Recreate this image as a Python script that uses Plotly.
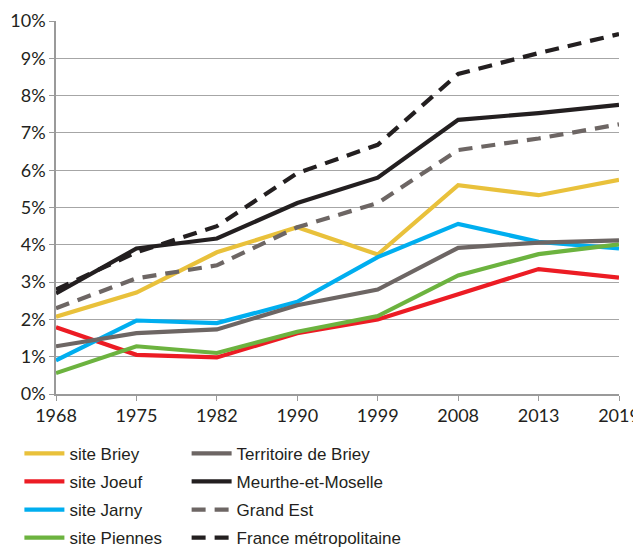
import plotly.graph_objects as go

years = ["1968", "1975", "1982", "1990", "1999", "2008", "2013", "2019"]

site_briey = [2.07, 2.72, 3.80, 4.47, 3.74, 5.60, 5.33, 5.74]
site_joeuf = [1.79, 1.05, 0.98, 1.63, 2.00, 2.67, 3.35, 3.12]
site_jarny = [0.90, 1.97, 1.90, 2.47, 3.67, 4.56, 4.08, 3.90]
site_piennes = [0.56, 1.28, 1.10, 1.67, 2.09, 3.18, 3.75, 4.01]
territoire_briey = [1.28, 1.63, 1.73, 2.38, 2.80, 3.92, 4.06, 4.12]
meurthe_moselle = [2.70, 3.90, 4.17, 5.12, 5.80, 7.35, 7.53, 7.75]
grand_est = [2.30, 3.10, 3.45, 4.47, 5.12, 6.54, 6.85, 7.23]
france_metro = [2.80, 3.80, 4.50, 5.92, 6.68, 8.58, 9.14, 9.65]

y_ticks = [0, 1, 2, 3, 4, 5, 6, 7, 8, 9, 10]
y_ticktext = [f"{v}%" for v in y_ticks]

xi = list(range(len(years)))

series = [
    ("site Briey", site_briey, "#E9C13B", "solid", "legend", 1),
    ("site Joeuf", site_joeuf, "#EC1C24", "solid", "legend", 2),
    ("site Jarny", site_jarny, "#00AEEF", "solid", "legend", 3),
    ("site Piennes", site_piennes, "#6CB33F", "solid", "legend", 4),
    ("Territoire de Briey", territoire_briey, "#6D6664", "solid", "legend2", 5),
    ("Meurthe-et-Moselle", meurthe_moselle, "#231F20", "solid", "legend2", 6),
    ("Grand Est", grand_est, "#6D6664", "14px,9px", "legend2", 7),
    ("France métropolitaine", france_metro, "#231F20", "14px,9px", "legend2", 8),
]

fig = go.Figure()
for name, vals, color, dash, lg, rank in series:
    fig.add_trace(go.Scatter(
        x=xi, y=vals, name=name, mode="lines",
        line=dict(color=color, width=4.2, dash=dash),
        legend=lg, legendrank=rank, legendgroup=name,
    ))

tickfont = dict(family="Lato, Open Sans, sans-serif", size=18, color="#231F20")
legfont = dict(family="Liberation Sans, Arial, sans-serif", size=17, color="#231F20")

# the page adds an 8px body margin, so the figure is drawn 8px smaller
fig.update_layout(
    width=633, height=539,
    margin=dict(l=48, r=22, t=13, b=153, autoexpand=False),
    paper_bgcolor="white", plot_bgcolor="white",
    showlegend=True,
    xaxis=dict(
        range=[0, len(years) - 1], tickmode="array", tickvals=xi, ticktext=years,
        showgrid=False, zeroline=False, showline=True, linecolor="#9A9A9A", linewidth=1.5,
        ticks="outside", ticklen=5, tickcolor="#9A9A9A", tickfont=tickfont,
    ),
    yaxis=dict(
        range=[0, 10], tickmode="array", tickvals=y_ticks, ticktext=y_ticktext,
        showgrid=True, gridcolor="#A6A6A6", gridwidth=1.2, zeroline=False,
        showline=True, linecolor="#9A9A9A", linewidth=1.5,
        ticks="outside", ticklen=5, tickcolor="#9A9A9A", tickfont=tickfont,
    ),
    legend=dict(
        x=-0.065, y=-0.112, xanchor="left", yanchor="top", orientation="v",
        font=legfont, bgcolor="rgba(0,0,0,0)", tracegroupgap=3, itemwidth=40,
        traceorder="grouped",
    ),
    legend2=dict(
        x=0.232, y=-0.112, xanchor="left", yanchor="top", orientation="v",
        font=legfont, bgcolor="rgba(0,0,0,0)", tracegroupgap=3, itemwidth=40,
        traceorder="grouped",
    ),
)

fig.write_html("out.html")
